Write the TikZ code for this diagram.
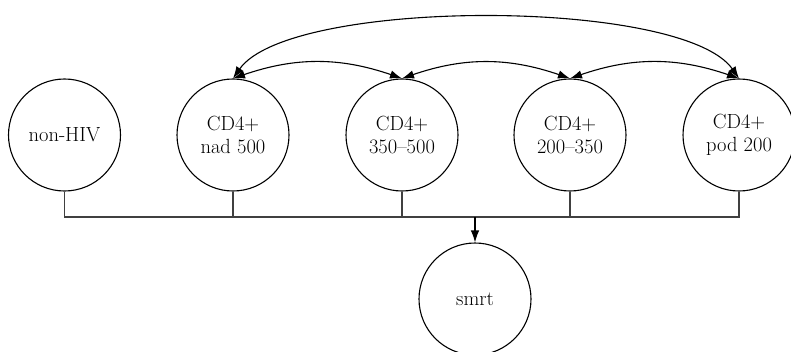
\documentclass[tikz,border=0pt]{standalone}
\usetikzlibrary{arrows.meta}
\begin{document}
\begin{tikzpicture}[x=1pt,y=1pt,
  state/.style={circle,draw,line width=1.1pt,minimum size=112pt,inner sep=0pt,align=center,
    font=\fontsize{20.5}{23}\selectfont},
  link/.style={line width=1.1pt,draw=black!75},
  bi/.style={line width=1.1pt,{Latex[length=12pt,width=8.5pt]}-{Latex[length=12pt,width=8.5pt]}},
  down/.style={line width=1.1pt,-{Latex[length=12pt,width=8.5pt]}}]
\useasboundingbox (0,0) rectangle (791,351);
\node[state] (nh) at (64.5,216) {non-HIV};
\node[state] (a) at (233,216) {CD4+\\nad 500};
\node[state] (b) at (402,216) {CD4+\\350--500};
\node[state] (c) at (570,216) {CD4+\\200--350};
\node[state] (d) at (739,216) {CD4+\\pod 200};
\node[state] (s) at (475,52) {smrt};
\coordinate (j) at (475,134);
\draw[link] (nh.south) -- (nh.south |- j) -- (d.south |- j) -- (d.south);
\draw[link] (a.south) -- (a.south |- j);
\draw[link] (b.south) -- (b.south |- j);
\draw[link] (c.south) -- (c.south |- j);
\draw[down] (j) -- (s.north);
\draw[bi] (a.north) to[bend left=19] (b.north);
\draw[bi] (b.north) to[bend left=19] (c.north);
\draw[bi] (c.north) to[bend left=19] (d.north);
\draw[bi] (a.north) to[out=55,in=125,looseness=0.5] (d.north);
\end{tikzpicture}
\end{document}
